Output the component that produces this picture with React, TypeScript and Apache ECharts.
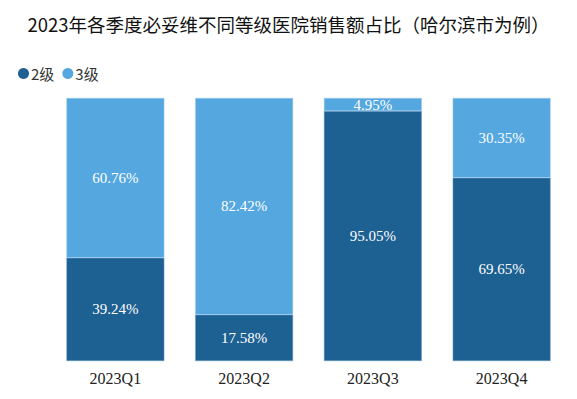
import React, { useEffect, useRef } from "react";
import * as echarts from "echarts";

const categories = ["2023Q1", "2023Q2", "2023Q3", "2023Q4"];
const level2 = [39.24, 17.58, 95.05, 69.65];
const level3 = [60.76, 82.42, 4.95, 30.35];
const seriesNames = ["2级", "3级"];

export default function App() {
  const ref = useRef<HTMLDivElement>(null);
  useEffect(() => {
    document.body.style.margin = "0";
    const chart = echarts.init(ref.current!, null, { renderer: "svg" });
    const label = {
      show: true,
      position: "inside",
      color: "#ffffff",
      fontFamily: "Liberation Serif",
      fontSize: 15,
      formatter: (p: any) => p.value.toFixed(2) + "%",
    };
    chart.setOption({
      animation: false,
      title: {
        text: "2023年各季度必妥维不同等级医院销售额占比（哈尔滨市为例）",
        left: "center",
        top: 10,
        textStyle: {
          fontFamily: "Noto Sans CJK SC",
          fontSize: 18.5,
          fontWeight: "normal",
          color: "#111",
        },
      },
      legend: {
        left: 13,
        top: 61,
        icon: "circle",
        itemWidth: 11,
        itemHeight: 11,
        itemGap: 8,
        itemStyle: { borderWidth: 0 },
        textStyle: { fontFamily: "Noto Sans CJK SC", fontSize: 15, color: "#333", padding: [0, 0, 0, -3] },
        data: seriesNames,
      },
      grid: { left: 51, right: 11, top: 98, bottom: 38 },
      xAxis: {
        type: "category",
        data: categories,
        axisLine: { show: false },
        axisTick: { show: false },
        axisLabel: {
          fontFamily: "Liberation Serif",
          fontSize: 16,
          color: "#222",
          margin: 9,
        },
      },
      yAxis: {
        type: "value",
        min: 0,
        max: 100,
        show: false,
        splitLine: { show: false },
      },
      series: [
        {
          name: seriesNames[0],
          type: "bar",
          stack: "total",
          barWidth: "76%",
          data: level2,
          itemStyle: { color: "#1d6092", borderColor: "#6f9fc6", borderWidth: 0.5 },
          label,
        },
        {
          name: seriesNames[1],
          type: "bar",
          stack: "total",
          barWidth: "76%",
          data: level3,
          itemStyle: { color: "#55a7df", borderColor: "#9ccbee", borderWidth: 0.5 },
          label,
        },
      ],
    });
    return () => chart.dispose();
  }, []);
  return <div ref={ref} style={{ width: 577, height: 399 }} />;
}
